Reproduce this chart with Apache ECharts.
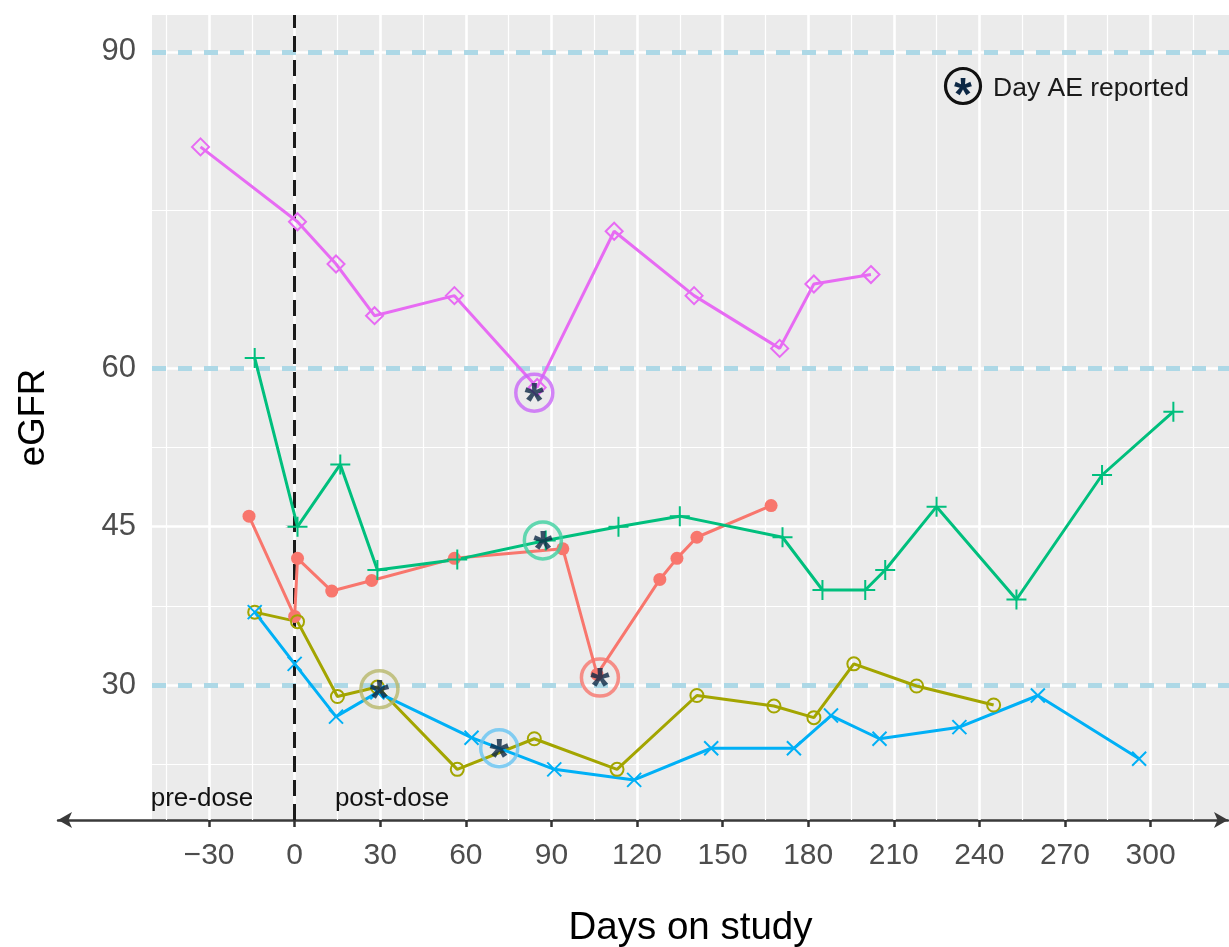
<!DOCTYPE html>
<html>
<head>
<meta charset="utf-8">
<script src="https://cdn.jsdelivr.net/npm/echarts@6/dist/echarts.min.js"></script>
<style>
html,body{margin:0;padding:0;background:#fff;overflow:hidden;}
#chart{width:1229px;height:947px;}
</style>
</head>
<body>
<div id="chart"></div>
<script>
// ---------- data ----------
const xTickLabels = [-30, 0, 30, 60, 90, 120, 150, 180, 210, 240, 270, 300];
const xMinorBreaks = [-45, -15, 15, 45, 75, 105, 135, 165, 195, 225, 255, 285, 315];
const yTickLabels = [30, 45, 60, 90];
const yMinorBreaks = [22.5, 37.5, 52.5, 75];
const refLevels = [30, 60, 90];
const doseDay = 0;

const redDays   = [-16, 0, 1, 13, 27, 56, 94, 106, 128, 134, 141, 167];
const redVals   = [46, 36.5, 42, 38.9, 39.9, 42, 42.9, 31, 40, 42, 44, 47];

const oliveDays = [-14, 1, 15, 29, 57, 84, 113, 141, 168, 182, 196, 218, 245];
const oliveVals = [36.9, 36, 28.9, 29.8, 22, 24.9, 22, 29, 28, 26.9, 32, 29.9, 28.1];

const greenDays = [-14, 1, 16, 29, 57, 88, 113.5, 135, 171, 185, 200, 207, 225, 253, 283, 308];
const greenVals = [61, 45, 50.9, 40.9, 41.9, 43.7, 45, 46, 44, 39, 39, 40.9, 46.9, 38.1, 49.9, 55.9];

const blueDays  = [-14, 0, 14.5, 29, 62, 91, 119, 146, 175, 188, 205, 233, 260.5, 296];
const blueVals  = [36.9, 32, 27, 29.3, 25, 22, 21, 24, 24, 27.1, 24.9, 26, 29, 23];

const pinkDays  = [-33, 1, 14.5, 28, 56, 85, 112, 140, 170, 182, 202];
const pinkVals  = [81, 73.9, 69.9, 65, 66.9, 58.2, 73, 66.9, 61.9, 68, 68.9];

const aeDays    = [84, 87, 107, 29.7, 71.7];
const aeVals    = [57.7, 43.7, 30.7, 29.6, 24.0];
const aeColors  = ['#C966F7', '#3DD1A0', '#F8766D', '#B8B86A', '#66C4F2'];

// ---------- chart ----------
const FONT = 'Liberation Sans, Arial, Helvetica, sans-serif';
const zip = (a, b) => a.map((v, i) => [v, b[i]]);
const PLUS = 'path://M5,0L5,10M0,5L10,5';
const CROSS = 'path://M0,0L10,10M0,10L10,0';

function dataSeries(name, days, vals, color, symbol, size, filled) {
  return {
    name: name, type: 'line', z: 10,
    data: zip(days, vals),
    symbol: symbol, symbolSize: size, showSymbol: true,
    lineStyle: {color: color, width: 3},
    itemStyle: filled
      ? {color: color, borderWidth: 0}
      : {color: 'rgba(0,0,0,0)', borderColor: color, borderWidth: 2},
    emphasis: {disabled: true},
    animation: false
  };
}

const chart = echarts.init(document.getElementById('chart'), null, {renderer: 'canvas'});

const gridLineData = []
  .concat(xTickLabels.map(v => ({xAxis: v, lineStyle: {color: '#ffffff', width: 2.6, type: 'solid'}})))
  .concat(xMinorBreaks.map(v => ({xAxis: v, lineStyle: {color: '#ffffff', width: 1.2, type: 'solid'}})))
  .concat(yTickLabels.map(v => ({yAxis: v, lineStyle: {color: '#ffffff', width: 2.6, type: 'solid'}})))
  .concat(yMinorBreaks.map(v => ({yAxis: v, lineStyle: {color: '#ffffff', width: 1.2, type: 'solid'}})));

const option = {
  animation: false,
  textStyle: {fontFamily: FONT},
  grid: [
    {left: 152, right: 0, top: 15, bottom: 127, show: true, backgroundColor: '#EBEBEB', borderWidth: 0,
     containLabel: false, outerBoundsMode: 'none'},
    {left: 58, right: 1, top: 15, bottom: 127, show: false, containLabel: false, outerBoundsMode: 'none'}
  ],
  xAxis: [
    {
      gridIndex: 0, type: 'value', min: -50, max: 327.5,
      axisLine: {show: false},
      axisTick: {show: true, customValues: xTickLabels, length: 7, lineStyle: {color: '#333333', width: 2.5}},
      axisLabel: {customValues: xTickLabels, fontSize: 30, color: '#4D4D4D', margin: 21, fontFamily: FONT,
                  formatter: v => (v < 0 ? '\u2212' + Math.abs(v) : String(v))},
      splitLine: {show: false},
      name: 'Days on study', nameLocation: 'middle', nameGap: 89,
      nameTextStyle: {fontSize: 38.5, color: '#000000', fontFamily: FONT}
    },
    {
      gridIndex: 1, type: 'value', min: 0, max: 1,
      axisLine: {show: true, symbol: ['arrow', 'arrow'], symbolSize: [12, 14],
                 lineStyle: {color: '#3A3A3A', width: 2.5}},
      axisTick: {show: false}, axisLabel: {show: false}, splitLine: {show: false}
    }
  ],
  yAxis: [
    {
      gridIndex: 0, type: 'value', min: 17.2, max: 93.5,
      axisLine: {show: false},
      axisTick: {show: true, customValues: yTickLabels, length: 9, lineStyle: {color: '#333333', width: 2.5}},
      axisLabel: {customValues: yTickLabels, fontSize: 31, color: '#4D4D4D', margin: 16, fontFamily: FONT},
      splitLine: {show: false},
      name: 'eGFR', nameLocation: 'middle', nameGap: 100, nameRotate: 90,
      nameTextStyle: {fontSize: 36.5, color: '#000000', fontFamily: FONT}
    },
    {gridIndex: 1, type: 'value', min: 0, max: 1, show: false}
  ],
  series: [
    {
      name: 'grid', type: 'line', data: [], z: 1, silent: true,
      markLine: {silent: true, z: 1, symbol: ['none', 'none'], label: {show: false}, animation: false,
                 data: gridLineData}
    },
    {
      name: 'ref', type: 'line', data: [], z: 2, silent: true,
      markLine: {silent: true, z: 2, symbol: ['none', 'none'], label: {show: false}, animation: false,
                 lineStyle: {color: '#ADD8E6', width: 5, type: [14, 12]},
                 data: refLevels.map(v => ({yAxis: v}))}
    },
    {
      name: 'dose', type: 'line', data: [], z: 3, silent: true,
      markLine: {silent: true, z: 3, symbol: ['none', 'none'], label: {show: false}, animation: false,
                 lineStyle: {color: '#1A1A1A', width: 3, type: [16, 8]},
                 data: [{xAxis: doseDay}]}
    },
    dataSeries('pt1', redDays, redVals, '#F8766D', 'circle', 13, true),
    dataSeries('pt2', oliveDays, oliveVals, '#A3A500', 'circle', 13, false),
    dataSeries('pt3', greenDays, greenVals, '#00BF7D', PLUS, 20, false),
    dataSeries('pt4', blueDays, blueVals, '#00B0F6', CROSS, 14, false),
    dataSeries('pt5', pinkDays, pinkVals, '#E76BF3', 'diamond', 17, false),
    {
      name: 'AE', type: 'scatter', z: 12, silent: true,
      symbol: 'circle', symbolSize: 37,
      data: aeDays.map((d, i) => ({
        value: [d, aeVals[i]],
        itemStyle: {color: 'rgba(0,0,0,0)', borderColor: aeColors[i], borderWidth: 3.5}
      })),
      label: {show: true, position: 'inside', formatter: '*', fontSize: 50, fontWeight: 'bold',
              color: '#0D2845', offset: [0, 12], fontFamily: FONT},
      emphasis: {disabled: true}
    }
  ],
  graphic: [
    {type: 'circle', shape: {cx: 963, cy: 86, r: 17.5}, style: {fill: 'none', stroke: '#111111', lineWidth: 3.2}, z: 10},
    {type: 'text', x: 963, y: 97, style: {text: '*', font: 'bold 46px ' + FONT, fill: '#0D2845', textAlign: 'center', textVerticalAlign: 'middle'}, z: 10},
    {type: 'text', x: 993, y: 89, style: {text: 'Day AE reported', font: '26.5px ' + FONT, fill: '#1A1A1A', textAlign: 'left', textVerticalAlign: 'middle'}, z: 10},
    {type: 'text', x: 202, y: 799, style: {text: 'pre-dose', font: '26px ' + FONT, fill: '#111111', textAlign: 'center', textVerticalAlign: 'middle'}, z: 10},
    {type: 'text', x: 392, y: 799, style: {text: 'post-dose', font: '26px ' + FONT, fill: '#111111', textAlign: 'center', textVerticalAlign: 'middle'}, z: 10}
  ]
};
chart.setOption(option);
</script>
</body>
</html>
